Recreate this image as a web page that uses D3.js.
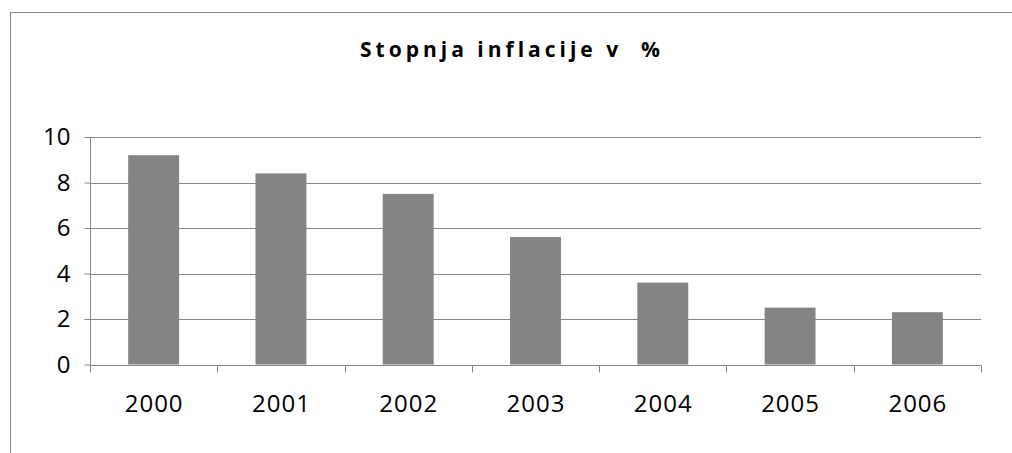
<!DOCTYPE html>
<html>
<head>
<meta charset="utf-8">
<script src="https://cdn.jsdelivr.net/npm/d3@7"></script>
<style>
  html, body { margin: 0; padding: 0; background: #fff; }
  svg { display: block; }
</style>
</head>
<body>
<div id="chart"></div>
<script>
const title = "Stopnja inflacije v  %";
const years = ["2000", "2001", "2002", "2003", "2004", "2005", "2006"];
const inflation = [9.2, 8.4, 7.5, 5.6, 3.6, 2.5, 2.3];
const yTicks = [0, 2, 4, 6, 8, 10];

const width = 1012;
const height = 453;
const margin = { top: 137, right: 31, bottom: 88.5, left: 90 };

const svg = d3
  .select("#chart")
  .append("svg")
  .attr("width", width)
  .attr("height", height);

// chart frame (right and bottom sit off the picture)
svg
  .append("rect")
  .attr("x", 10.5)
  .attr("y", 12.5)
  .attr("width", 1100)
  .attr("height", 600)
  .style("fill", "none")
  .style("stroke", "#868686");

svg
  .append("text")
  .attr("x", 512)
  .attr("y", 57)
  .attr("text-anchor", "middle")
  .style("font-family", "'Open Sans', sans-serif")
  .style("font-weight", "bold")
  .style("font-size", "21px")
  .style("letter-spacing", "4px")
  .style("white-space", "pre")
  .style("fill", "#000")
  .text(title);

const x = d3
  .scaleBand()
  .domain(years)
  .range([margin.left, width - margin.right])
  .paddingInner(0.6)
  .paddingOuter(0.3);

const y = d3
  .scaleLinear()
  .domain([0, 10])
  .range([height - margin.bottom, margin.top]);

// gridlines
svg
  .append("g")
  .selectAll("line")
  .data(yTicks.slice(1))
  .enter()
  .append("line")
  .attr("x1", margin.left)
  .attr("x2", width - margin.right)
  .attr("y1", d => Math.round(y(d)) + 0.5)
  .attr("y2", d => Math.round(y(d)) + 0.5)
  .style("stroke", "#868686");

// bars
svg
  .append("g")
  .selectAll("rect")
  .data(inflation)
  .enter()
  .append("rect")
  .attr("x", (d, i) => x(years[i]))
  .attr("width", x.bandwidth())
  .attr("y", d => y(d))
  .attr("height", d => y(0) - y(d))
  .style("fill", "#848484");

// y axis
const yAxis = svg
  .append("g")
  .attr("transform", `translate(${margin.left + 0.5},0)`)
  .call(d3.axisLeft(y).tickValues(yTicks).tickSize(6).tickPadding(14).tickFormat(d3.format("d")));

// x axis, ticks at category boundaries
const xAxis = svg
  .append("g")
  .attr("transform", `translate(0,${Math.round(y(0)) + 0.5})`)
  .call(d3.axisBottom(x).tickSize(0).tickPadding(29));

const step = x.step();
xAxis
  .selectAll(".bound")
  .data(d3.range(years.length + 1))
  .enter()
  .append("line")
  .attr("class", "bound")
  .attr("x1", i => Math.round(margin.left + i * step) + 0.5)
  .attr("x2", i => Math.round(margin.left + i * step) + 0.5)
  .attr("y1", 0)
  .attr("y2", 7);

[yAxis, xAxis].forEach(g => {
  g.selectAll("path.domain").style("stroke", "#868686");
  g.selectAll("line").style("stroke", "#868686");
  g.selectAll("text")
    .style("font-family", "'Open Sans', sans-serif")
    .style("font-size", "24px")
    .style("fill", "#000");
});
xAxis.selectAll("text").style("letter-spacing", "1px").attr("dx", "0.5px");
yAxis.select("path.domain").attr("d", `M0,${y(10)}V${Math.round(y(0))}`);
xAxis.select("path.domain").attr("d", `M${margin.left},0H${width - margin.right}`);
</script>
</body>
</html>
